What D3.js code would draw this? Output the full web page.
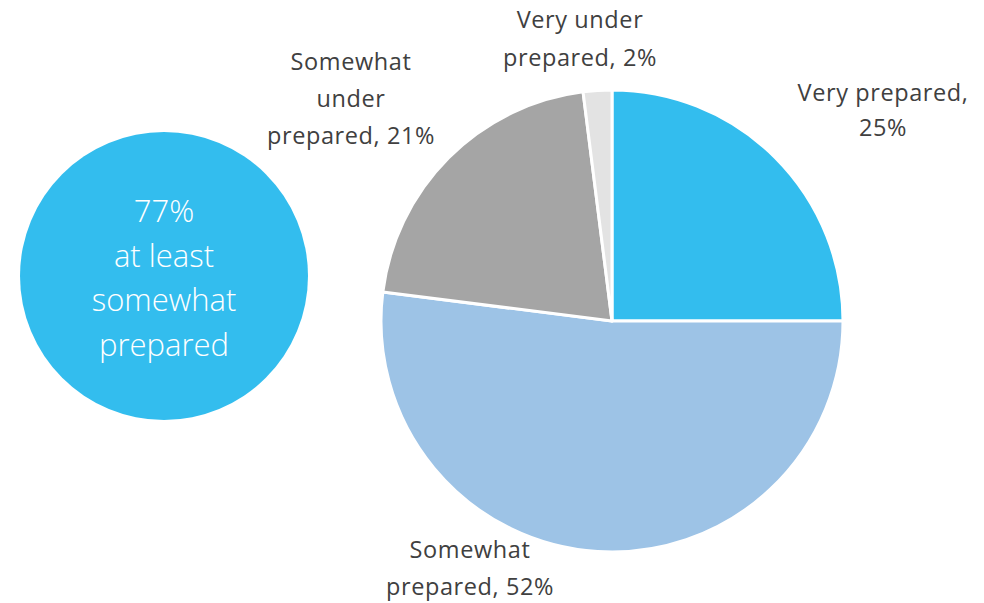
<!DOCTYPE html>
<html><head><meta charset="utf-8">
<script src="https://cdn.jsdelivr.net/npm/d3@7"></script>
<style>body{margin:0;background:#fff}svg{display:block}</style>
</head><body>
<svg id="c" width="984" height="603"></svg>
<script>
const categories = ["Very prepared", "Somewhat prepared", "Somewhat under prepared", "Very under prepared"];
const values = [25, 52, 21, 2];
const colors = ["#33BDEE", "#9DC3E6", "#A5A5A5", "#E3E3E3"];
const labelLines = [["Very prepared,", "25%"], ["Somewhat", "prepared, 52%"], ["Somewhat", "under", "prepared, 21%"], ["Very under", "prepared, 2%"]];
const calloutLines = ["77%", "at least", "somewhat", "prepared"];

const svg = d3.select("#c");
const font = "'Open Sans', Lato, sans-serif";
const cx = 612, cy = 321, r = 231;

const pie = d3.pie().sort(null).value(d => d)(values);
const arc = d3.arc().innerRadius(0).outerRadius(r);
const g = svg.append("g").attr("transform", `translate(${cx},${cy})`);
g.selectAll("path").data(pie).join("path")
  .attr("d", arc).attr("fill", (d, i) => colors[i])
  .attr("stroke", "#fff").attr("stroke-width", 3).attr("stroke-linejoin", "round");

// label anchor positions (center x, first baseline y)
const labelPos = [[883, 101], [470, 558], [351, 70], [580, 28]];
const lh = [35, 37, 37, 38];
labelLines.forEach((lines, i) => {
  const t = svg.append("text").attr("text-anchor", "middle")
    .attr("font-family", font).attr("font-size", 23.5).attr("letter-spacing", 0.6).attr("fill", "#404040");
  lines.forEach((s, j) => t.append("tspan").attr("x", labelPos[i][0]).attr("y", labelPos[i][1] + j * lh[i]).text(s));
});

// callout circle
svg.append("circle").attr("cx", 164).attr("cy", 276).attr("r", 144).attr("fill", "#33BDEE");
const ct = svg.append("text").attr("text-anchor", "middle").attr("font-family", font)
  .attr("font-size", 31).attr("font-weight", 300).attr("fill", "#fff");
calloutLines.forEach((s, j) => ct.append("tspan").attr("x", 164).attr("y", 222 + j * 44.5).text(s));
</script>
</body></html>
